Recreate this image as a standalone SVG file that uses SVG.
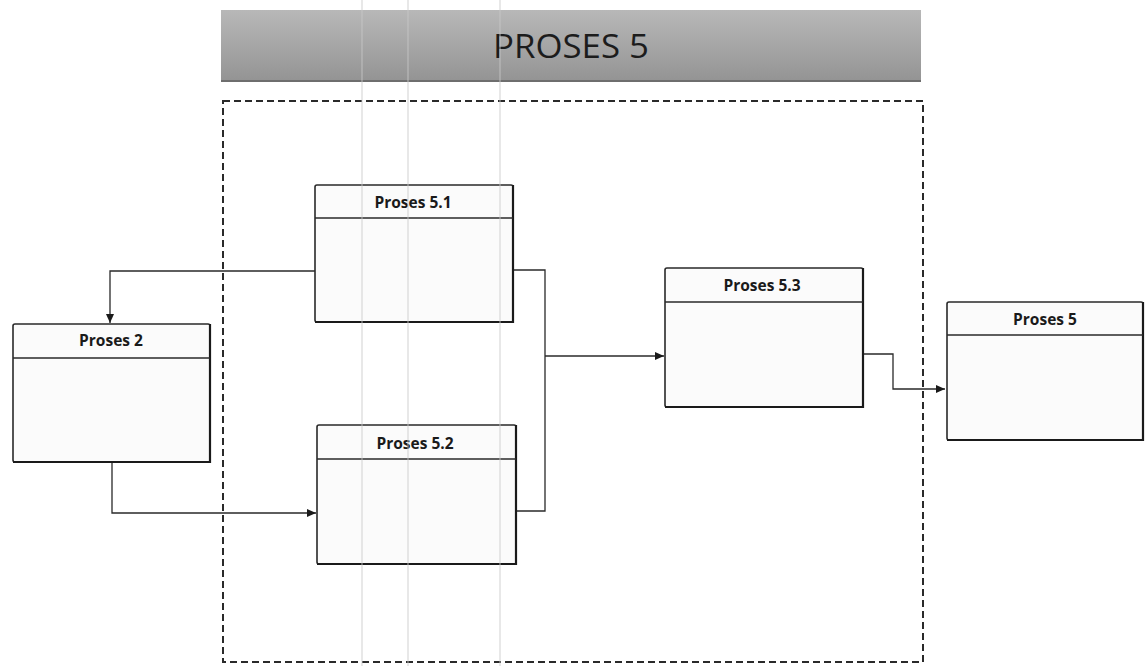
<svg xmlns="http://www.w3.org/2000/svg" width="1145" height="666" viewBox="0 0 1145 666">
  <style>
    .box { fill: #fbfbfb; stroke: #2a2a2a; stroke-width: 1.6; }
    .shadow { fill: none; stroke: #1a1a1a; stroke-width: 2.2; }
    .hdr { stroke: #2a2a2a; stroke-width: 1.4; }
    .title { font-family: "Open Sans", "Liberation Sans", sans-serif; font-weight: bold; font-size: 15.5px; fill: #1a1a1a; text-anchor: middle; }
    .conn { fill: none; stroke: #2a2a2a; stroke-width: 1.3; }
    .artifact { stroke: #c8c8c8; stroke-width: 1.4; stroke-opacity: 0.6; }
  </style>
  <defs>
    <linearGradient id="banner" x1="0" y1="0" x2="0" y2="1">
      <stop offset="0" stop-color="#b8b8b8"/>
      <stop offset="0.5" stop-color="#a6a6a6"/>
      <stop offset="1" stop-color="#939393"/>
    </linearGradient>
    <linearGradient id="body" x1="0" y1="0" x2="0" y2="1">
      <stop offset="0" stop-color="#ffffff"/>
      <stop offset="1" stop-color="#f0f0f0"/>
    </linearGradient>
    <marker id="arrow" markerWidth="10" markerHeight="10" refX="9" refY="5" orient="auto" markerUnits="userSpaceOnUse">
      <path d="M0,1 L9,5 L0,9 Z" fill="#1a1a1a"/>
    </marker>
  </defs>
  <rect width="1145" height="666" fill="#ffffff"/>

  <!-- banner -->
  <g id="banner-title">
    <rect x="221" y="10" width="700" height="72" fill="url(#banner)"/>
    <line x1="221" y1="81" x2="921" y2="81" stroke="#6e6e6e" stroke-width="2"/>
    <text x="571" y="58" font-family="'Open Sans', 'Liberation Sans', sans-serif" font-size="33" fill="#1c1c1c" text-anchor="middle" textLength="156" lengthAdjust="spacingAndGlyphs">PROSES 5</text>
  </g>

  <!-- dashed boundary -->
  <g id="boundary">
    <rect x="223" y="101" width="700" height="561" fill="none" stroke="#2a2a2a" stroke-width="2" stroke-dasharray="7,4"/>
  </g>

  <!-- connectors -->
  <g id="connectors">
    <polyline class="conn" points="315,271 110,271 110,323" marker-end="url(#arrow)"/>
    <polyline class="conn" points="112,462 112,513 316,513" marker-end="url(#arrow)"/>
    <polyline class="conn" points="513,270 545,270 545,511 516,511"/>
    <polyline class="conn" points="545,356 664,356" marker-end="url(#arrow)"/>
    <polyline class="conn" points="863,354 893,354 893,389 945,389" marker-end="url(#arrow)"/>
  </g>

  <!-- nodes -->
  <g id="node-proses-5-1">
    <rect class="box" x="315" y="185" width="198" height="137" rx="2" fill="url(#body)"/>
    <polyline class="shadow" points="315,322 513,322 513,185"/>
    <line class="hdr" x1="315" y1="218" x2="513" y2="218"/>
    <text class="title" x="413" y="208">Proses 5.1</text>
  </g>

  <g id="node-proses-2">
    <rect class="box" x="13" y="324" width="197" height="138" rx="2"/>
    <polyline class="shadow" points="13,462 210,462 210,324"/>
    <line class="hdr" x1="13" y1="358" x2="210" y2="358"/>
    <text class="title" x="111" y="346">Proses 2</text>
  </g>

  <g id="node-proses-5-2">
    <rect class="box" x="317" y="425" width="199" height="139" rx="2"/>
    <polyline class="shadow" points="317,564 516,564 516,425"/>
    <line class="hdr" x1="317" y1="459" x2="516" y2="459"/>
    <text class="title" x="415" y="449">Proses 5.2</text>
  </g>

  <g id="node-proses-5-3">
    <rect class="box" x="665" y="268" width="198" height="139" rx="2"/>
    <polyline class="shadow" points="665,407 863,407 863,268"/>
    <line class="hdr" x1="665" y1="302" x2="863" y2="302"/>
    <text class="title" x="762" y="291">Proses 5.3</text>
  </g>

  <g id="node-proses-5">
    <rect class="box" x="947" y="302" width="196" height="138" rx="2"/>
    <polyline class="shadow" points="947,440 1143,440 1143,302"/>
    <line class="hdr" x1="947" y1="335" x2="1143" y2="335"/>
    <text class="title" x="1045" y="325">Proses 5</text>
  </g>

  <!-- scan artifact lines (faint, over everything as in the scan) -->
  <g id="artifacts">
    <line class="artifact" x1="362" y1="0" x2="362" y2="666"/>
    <line class="artifact" x1="408" y1="0" x2="408" y2="666"/>
    <line class="artifact" x1="500" y1="0" x2="500" y2="666"/>
  </g>
</svg>
